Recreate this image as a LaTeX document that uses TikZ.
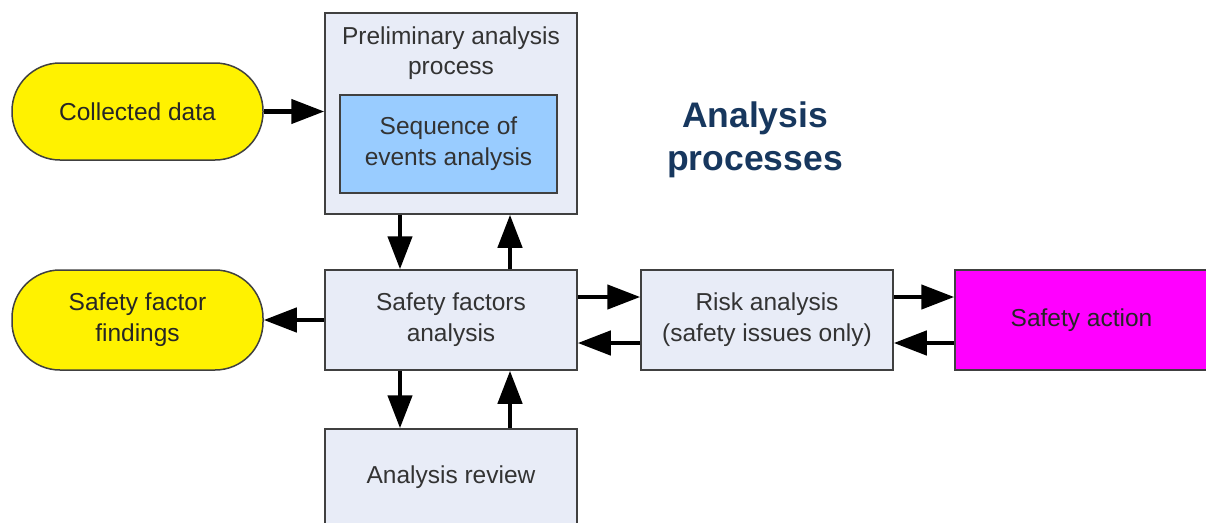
\documentclass[tikz,border=0pt]{standalone}
\usepackage{fontspec}
\setmainfont{Liberation Sans}
\usetikzlibrary{arrows.meta}
\definecolor{boxfill}{HTML}{E8ECF7}
\definecolor{innerfill}{HTML}{99CCFF}
\definecolor{edge}{HTML}{404040}
\definecolor{txt}{HTML}{333333}
\definecolor{titleblue}{HTML}{17375E}
\definecolor{mag}{HTML}{FF00FF}
\tikzset{
  box/.style={draw=edge, line width=1.5pt, fill=boxfill, inner sep=0pt, align=center,
    text=txt, font=\fontsize{24.5}{31}\selectfont, shape=rectangle},
  pill/.style={box, fill=yellow, text=black!85, rounded corners=48pt},
  arr/.style={line width=4.5pt, -{Triangle[length=33pt,width=24pt]}},
}
\begin{document}
\begin{tikzpicture}[x=1pt,y=-1pt]
\useasboundingbox (0,0) rectangle (1206,522);
\clip (0,0) rectangle (1206,522);
\node[pill, minimum width=251pt, minimum height=97pt] (collected) at (137.5,111.5) {Collected data};
\node[pill, minimum width=251pt, minimum height=100pt] (findings) at (137.5,320) {Safety factor\\findings};
\node[box, minimum width=252pt, minimum height=201pt] (prelim) at (451,113.5) {};
\node[text=txt, font=\fontsize{24.5}{30}\selectfont, align=center, inner sep=0pt] (prelimlabel) at (451,53) {Preliminary analysis\\process};
\node[box, fill=innerfill, minimum width=217pt, minimum height=98pt] (sequence) at (448.5,144) {Sequence of\\events analysis};
\node[box, minimum width=252pt, minimum height=100pt] (sfa) at (451,320) {Safety factors\\analysis};
\node[box, minimum width=252pt, minimum height=100pt] (risk) at (767,320) {Risk analysis\\(safety issues only)};
\node[box, fill=mag, text=black!85, minimum width=253pt, minimum height=100pt] (action) at (1081.5,320) {Safety action};
\node[box, minimum width=252pt, minimum height=97pt] (review) at (451,477.5) {Analysis review};
\node[text=titleblue, font=\bfseries\fontsize{35.5}{43}\selectfont, align=center, inner sep=0pt] (title) at (755,140) {Analysis\\processes};

\draw[arr] (collected.east) -- (prelim.west |- collected.east);
\draw[arr] ([xshift=-51pt]prelim.south) -- ([xshift=-51pt]sfa.north);
\draw[arr] ([xshift=59pt]sfa.north) -- ([xshift=59pt]prelim.south);
\draw[arr] (sfa.west) -- (findings.east);
\draw[arr] ([yshift=23pt]sfa.east) -- ([yshift=23pt]risk.west);
\draw[arr] ([yshift=-23pt]risk.west) -- ([yshift=-23pt]sfa.east);
\draw[arr] ([yshift=23pt]risk.east) -- ([yshift=23pt]action.west);
\draw[arr] ([yshift=-23pt]action.west) -- ([yshift=-23pt]risk.east);
\draw[arr] ([xshift=-51pt]sfa.south) -- ([xshift=-51pt]review.north);
\draw[arr] ([xshift=59pt]review.north) -- ([xshift=59pt]sfa.south);
\end{tikzpicture}
\end{document}
